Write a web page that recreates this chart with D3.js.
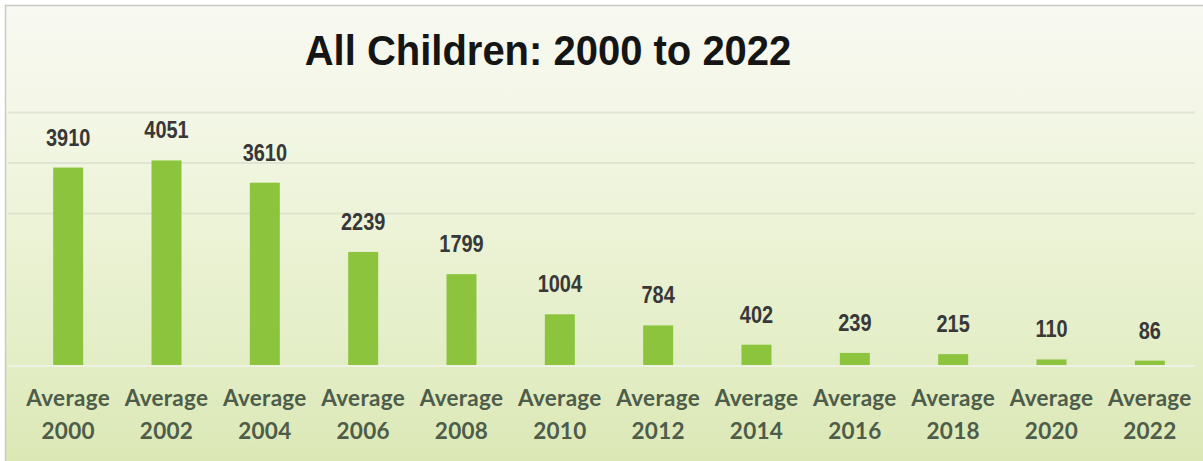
<!DOCTYPE html>
<html>
<head>
<meta charset="utf-8">
<script src="https://cdn.jsdelivr.net/npm/d3@7"></script>
<style>
  html, body { margin: 0; padding: 0; background: #ffffff; }
  svg { display: block; }
</style>
</head>
<body>
<svg id="chart" width="1203" height="461"></svg>
<script>
// Two-year averages for all children, 2000–2022
const years = ["2000", "2002", "2004", "2006", "2008", "2010", "2012", "2014", "2016", "2018", "2020", "2022"];
const averages = [3910, 4051, 3610, 2239, 1799, 1004, 784, 402, 239, 215, 110, 86];
const gridValues = [3000, 4000, 5000];
const titleText = "All Children: 2000 to 2022";
const categoryPrefix = "Average";

const W = 1203, H = 461;
const svg = d3.select("#chart");

// Panel background: pale at the top fading into soft green at the bottom
const defs = svg.append("defs");
const grad = defs.append("linearGradient")
  .attr("id", "panelFill").attr("x1", 0).attr("y1", 0).attr("x2", 0).attr("y2", 1);
[[0, "#f8f9f2"], [0.2, "#f4f7e8"], [0.5, "#ecf3d6"], [0.8, "#e2edc4"], [1, "#dbe8b5"]]
  .forEach(([o, c]) => grad.append("stop").attr("offset", o).attr("stop-color", c));

svg.append("rect")
  .attr("x", 5).attr("y", 5).attr("width", W - 5).attr("height", H - 5)
  .attr("fill", "url(#panelFill)");

// Thin frame on the top and left edges
svg.append("path")
  .attr("d", `M5.5,${H} V5.5 H${W}`)
  .attr("fill", "none").attr("stroke", "#c9c9c6").attr("stroke-width", 1.5);

// Scales
const x = d3.scaleBand()
  .domain(years)
  .range([19, 1199])
  .paddingInner(0.695)
  .paddingOuter(0.3475);

const y = d3.scaleLinear()
  .domain([0, 5000])
  .range([365, 112.5]);

// Horizontal gridlines
svg.append("g")
  .selectAll("line")
  .data(gridValues)
  .join("line")
  .attr("x1", 8).attr("x2", 1195)
  .attr("y1", d => y(d)).attr("y2", d => y(d))
  .attr("stroke", "#d6dccb").attr("stroke-opacity", 0.65).attr("stroke-width", 2);

// Baseline
svg.append("line")
  .attr("x1", 8).attr("x2", 1195)
  .attr("y1", y(0) + 1).attr("y2", y(0) + 1)
  .attr("stroke", "#eef2e4").attr("stroke-width", 2);

// Bars
svg.append("g")
  .selectAll("rect")
  .data(averages)
  .join("rect")
  .attr("x", (d, i) => x(years[i]))
  .attr("y", d => y(d))
  .attr("width", x.bandwidth())
  .attr("height", d => y(0) - y(d))
  .attr("fill", "#8cc53d");

// Value labels above bars (slightly narrow, tall figures)
svg.append("g")
  .selectAll("text")
  .data(averages)
  .join("text")
  .attr("transform", (d, i) =>
    `translate(${x(years[i]) + x.bandwidth() / 2},${y(d) - 22}) scale(0.95,1.1)`)
  .attr("text-anchor", "middle")
  .attr("font-family", "'Liberation Sans', Arial, sans-serif")
  .attr("font-weight", "bold")
  .attr("font-size", 21)
  .attr("fill", "#383838")
  .text(d => d);

// Category labels: "Average" over the year
const cat = svg.append("g")
  .selectAll("text")
  .data(years)
  .join("text")
  .attr("text-anchor", "middle")
  .attr("font-family", "Lato, 'Open Sans', sans-serif")
  .attr("font-weight", "bold")
  .attr("font-size", 22.5)
  .attr("letter-spacing", 0.3)
  .attr("fill", "#4e5c4a");
cat.append("tspan")
  .attr("x", d => x(d) + x.bandwidth() / 2)
  .attr("y", 406)
  .text(categoryPrefix);
cat.append("tspan")
  .attr("x", d => x(d) + x.bandwidth() / 2)
  .attr("y", 439)
  .text(d => d);

// Title
svg.append("text")
  .attr("transform", "translate(548,65) scale(1,1.06)")
  .attr("text-anchor", "middle")
  .attr("font-family", "'Liberation Sans', Arial, sans-serif")
  .attr("font-weight", "bold")
  .attr("font-size", 40)
  .attr("fill", "#151515")
  .text(titleText);
</script>
</body>
</html>
